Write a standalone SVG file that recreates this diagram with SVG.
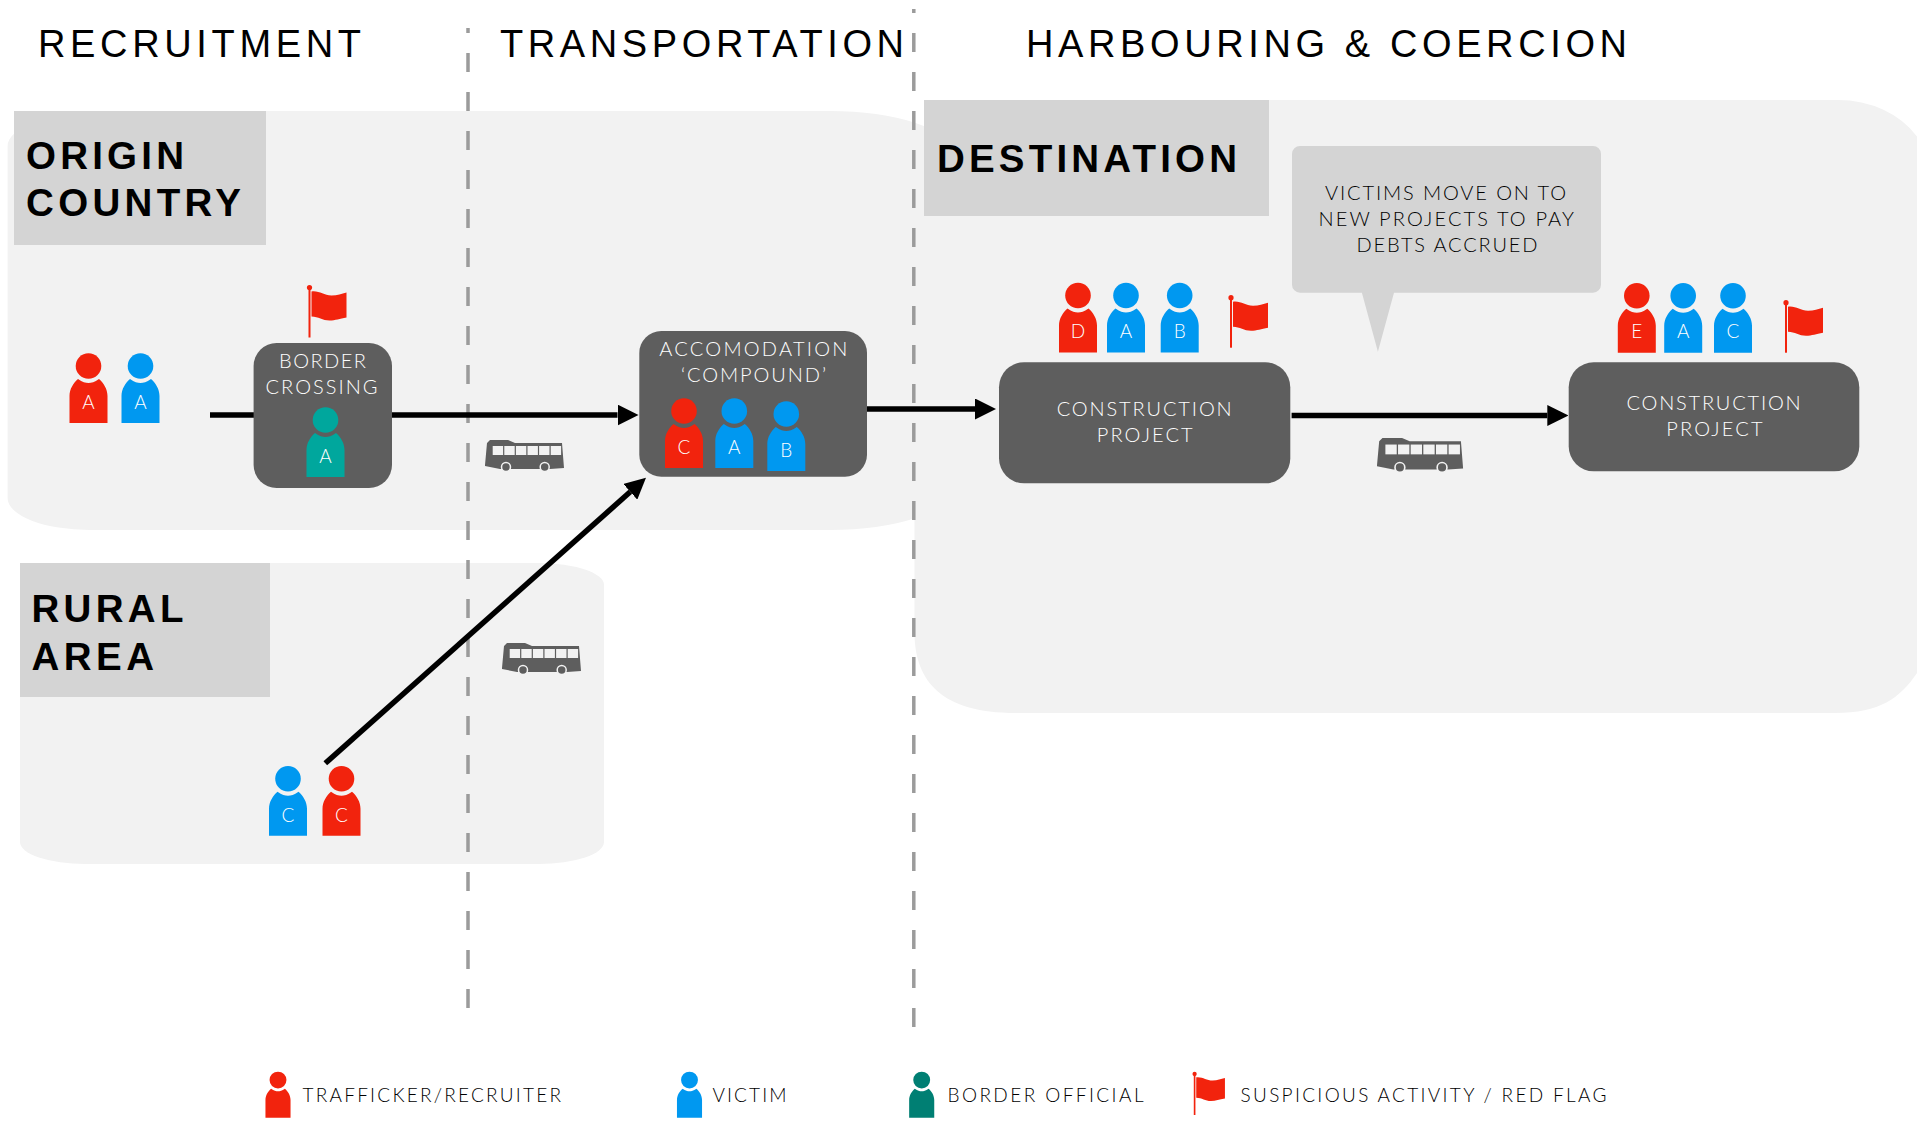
<svg xmlns="http://www.w3.org/2000/svg" width="1921" height="1121" viewBox="0 0 1921 1121">
<style>
text{font-family:"Lato","Liberation Sans",sans-serif}
.region{fill:#f2f2f2}
.label{fill:#d4d4d4}
.node{fill:#5e5e5e}
.h{font-family:"Liberation Sans",Arial,sans-serif;font-size:38px;fill:#000}
.b{font-family:"Liberation Sans",Arial,sans-serif;font-size:38.5px;font-weight:700;fill:#000}
.n{font-size:20px;font-weight:300;fill:#fff}
.t{font-size:20px;font-weight:300;fill:#000}
.lg{font-size:19px;font-weight:300;fill:#000}
.p{font-size:19px;font-weight:300;fill:#fff;text-anchor:middle}
.red{fill:#f2230d}.blue{fill:#0098f0}.teal{fill:#00a79d}.dteal{fill:#007f73}
.dash{stroke:#9b9b9b;stroke-width:3.5;stroke-dasharray:19 20;fill:none}
.conn{stroke:#000;stroke-width:5.5;fill:none}
</style>
<defs>
<marker id="arrow" markerUnits="userSpaceOnUse" markerWidth="21" markerHeight="21" viewBox="0 0 21 21" refX="0" refY="10.5" orient="auto"><polygon points="0,0 21,10.5 0,21" fill="#000"/></marker>
<g id="person"><circle cx="0" cy="-57" r="12.8"/><path d="M-19,0V-27C-19,-34 -15,-40 -10.5,-44C-6,-41 -3,-40 0,-40C3,-40 6,-41 10.5,-44C15,-40 19,-34 19,-27V0Z"/></g>
<g id="flag" class="red"><rect x="-1" y="-50" width="2" height="50"/><circle cx="0" cy="-50" r="2.6"/><path d="M2,-46C10,-47 14,-42 22,-42C28,-42 32,-44 37,-45V-20C30,-19 26,-17 20,-17C13,-17 9,-21 2,-21Z"/></g>
<g id="bus"><path fill="#5e5e5e" d="M0,25L2,3L5,0H23L30,3H77L79,28L65,29H15L0,26Z"/>
<g fill="#f2f2f2"><rect x="7.7" y="6" width="10.4" height="9"/><rect x="19.3" y="6" width="10.4" height="9"/><rect x="30.9" y="6" width="10.4" height="9"/><rect x="42.5" y="6" width="10.4" height="9"/><rect x="54.1" y="6" width="10.4" height="9"/><rect x="65.7" y="6" width="10.4" height="9"/></g>
<g fill="#5e5e5e" stroke="#f2f2f2" stroke-width="1.5"><circle cx="21" cy="27" r="4.5"/><circle cx="59.7" cy="27" r="4.5"/></g><circle cx="21" cy="27" r="1.8" fill="#5e5e5e"/><circle cx="59.7" cy="27" r="1.8" fill="#5e5e5e"/></g>
</defs>

<g id="regions">
<path class="region" d="M7.6,146A100,35 0 0 1 107,111H830A120,40 0 0 1 950,151V490A120,40 0 0 1 830,530H90A82,32 0 0 1 7.6,498Z"/>
<rect class="region" x="20" y="563" width="584" height="301" rx="65" ry="22"/>
<path class="region" d="M1016,100H1838A92,75 0 0 1 1917,136.6V673C1900,698 1880,713 1835,713H1016C940,713 916,680 914.5,636V170A100,70 0 0 1 1016,100Z"/>
<rect class="label" x="14" y="111" width="252" height="134"/>
<rect class="label" x="20" y="563" width="250" height="134"/>
<rect class="label" x="924" y="100" width="345" height="116"/>
</g>

<g id="headers">
<text class="h" x="38" y="56.5" textLength="323">RECRUITMENT</text>
<text class="h" x="500" y="56.5" textLength="404">TRANSPORTATION</text>
<text class="h" x="1026" y="56.5" textLength="601">HARBOURING &amp; COERCION</text>
<text class="b" x="26" y="168.5" textLength="158">ORIGIN</text>
<text class="b" x="26" y="216" textLength="215">COUNTRY</text>
<text class="b" x="31.5" y="622" textLength="152">RURAL</text>
<text class="b" x="31.5" y="669.5" textLength="122.5">AREA</text>
<text class="b" x="937" y="171.5" textLength="300">DESTINATION</text>
</g>

<g id="phase-dividers">
<line class="dash" x1="468" y1="28" x2="468" y2="1008" stroke-dashoffset="14"/>
<line class="dash" x1="913.8" y1="9" x2="913.8" y2="1028" stroke-dashoffset="15"/>
</g>

<g id="connectors">
<line class="conn" x1="210" y1="415" x2="617.5" y2="415" marker-end="url(#arrow)"/>
<line class="conn" x1="867" y1="409" x2="975" y2="409" marker-end="url(#arrow)"/>
<line class="conn" x1="1291.6" y1="415.5" x2="1547.3" y2="415.5" marker-end="url(#arrow)"/>
<line class="conn" x1="325.3" y1="763.3" x2="630.3" y2="491.8" marker-end="url(#arrow)"/>
</g>

<g id="bus-1"><use href="#bus" x="485" y="440"/></g>
<g id="bus-2"><use href="#bus" x="502" y="643"/></g>
<g id="bus-3"><use href="#bus" transform="translate(1377,438) scale(1.09)"/></g>

<g id="origin-trafficker"><use href="#person" class="red" x="88.5" y="423"/><text class="p" x="88.5" y="408.5">A</text></g>
<g id="origin-victim"><use href="#person" class="blue" x="140.5" y="423"/><text class="p" x="140.5" y="408.5">A</text></g>

<g id="border-crossing">
<rect class="node" x="253.6" y="343" width="138.4" height="145" rx="23"/>
<text class="n" x="279" y="368" textLength="87">BORDER</text>
<text class="n" x="265.5" y="394" textLength="112">CROSSING</text>
<use href="#person" class="teal" x="325.5" y="477"/><text class="p" x="325.5" y="463">A</text>
</g>
<g id="border-flag"><use href="#flag" x="309.5" y="337.5"/></g>

<g id="accommodation">
<rect class="node" x="639.3" y="331" width="227.7" height="145.7" rx="22"/>
<text class="n" x="659.3" y="356" textLength="188">ACCOMODATION</text>
<text class="n" x="681" y="381.7" textLength="145">‘COMPOUND’</text>
<use href="#person" class="red" x="684" y="468"/><text class="p" x="684" y="453.5">C</text>
<use href="#person" class="blue" x="734.3" y="468"/><text class="p" x="734.3" y="453.5">A</text>
<use href="#person" class="blue" x="786.3" y="471"/><text class="p" x="786.3" y="456.5">B</text>
</g>

<g id="rural-victim"><use href="#person" class="blue" x="288" y="835.7"/><text class="p" x="288" y="821.5">C</text></g>
<g id="rural-trafficker"><use href="#person" class="red" x="341.5" y="835.7"/><text class="p" x="341.5" y="821.5">C</text></g>

<g id="construction-1">
<rect class="node" x="999" y="362.3" width="291.3" height="121" rx="25"/>
<text class="n" x="1056.7" y="416" textLength="175">CONSTRUCTION</text>
<text class="n" x="1096.7" y="441.7" textLength="96">PROJECT</text>
</g>
<g id="construction-1-people">
<use href="#person" class="red" x="1078" y="352.5"/><text class="p" x="1078" y="338">D</text>
<use href="#person" class="blue" x="1126" y="352.5"/><text class="p" x="1126" y="338">A</text>
<use href="#person" class="blue" x="1179.7" y="352.5"/><text class="p" x="1179.7" y="338">B</text>
<use href="#flag" x="1231" y="347.7"/>
</g>

<g id="callout">
<path class="label" d="M1300,146H1593A8,8 0 0 1 1601,154V284.7A8,8 0 0 1 1593,292.7H1394L1377.9,351.7L1361.9,292.7H1300A8,8 0 0 1 1292,284.7V154A8,8 0 0 1 1300,146Z"/>
<text class="t" x="1325" y="200" textLength="241">VICTIMS MOVE ON TO</text>
<text class="t" x="1318.5" y="226" textLength="255.5">NEW PROJECTS TO PAY</text>
<text class="t" x="1356.5" y="252" textLength="181">DEBTS ACCRUED</text>
</g>

<g id="construction-2">
<rect class="node" x="1568.7" y="362.3" width="290.6" height="109" rx="25"/>
<text class="n" x="1626.4" y="410" textLength="174.3">CONSTRUCTION</text>
<text class="n" x="1666.3" y="436" textLength="96.2">PROJECT</text>
</g>
<g id="construction-2-people">
<use href="#person" class="red" x="1636.8" y="352.7"/><text class="p" x="1636.8" y="338">E</text>
<use href="#person" class="blue" x="1683.2" y="352.7"/><text class="p" x="1683.2" y="338">A</text>
<use href="#person" class="blue" x="1733" y="352.7"/><text class="p" x="1733" y="338">C</text>
<use href="#flag" x="1786" y="352.7"/>
</g>

<g id="legend">
<use href="#person" class="red" transform="translate(278,1117.7) scale(.66)"/>
<text class="lg" x="302.5" y="1101.7" textLength="258.5">TRAFFICKER/RECRUITER</text>
<use href="#person" class="blue" transform="translate(689.5,1117.7) scale(.66)"/>
<text class="lg" x="712.5" y="1101.7" textLength="74">VICTIM</text>
<use href="#person" class="dteal" transform="translate(921.7,1117.7) scale(.66)"/>
<text class="lg" x="947.5" y="1101.7" textLength="196">BORDER OFFICIAL</text>
<use href="#flag" transform="translate(1194.6,1115) scale(.82)"/>
<text class="lg" x="1240.5" y="1101.7" textLength="366">SUSPICIOUS ACTIVITY / RED FLAG</text>
</g>
</svg>
